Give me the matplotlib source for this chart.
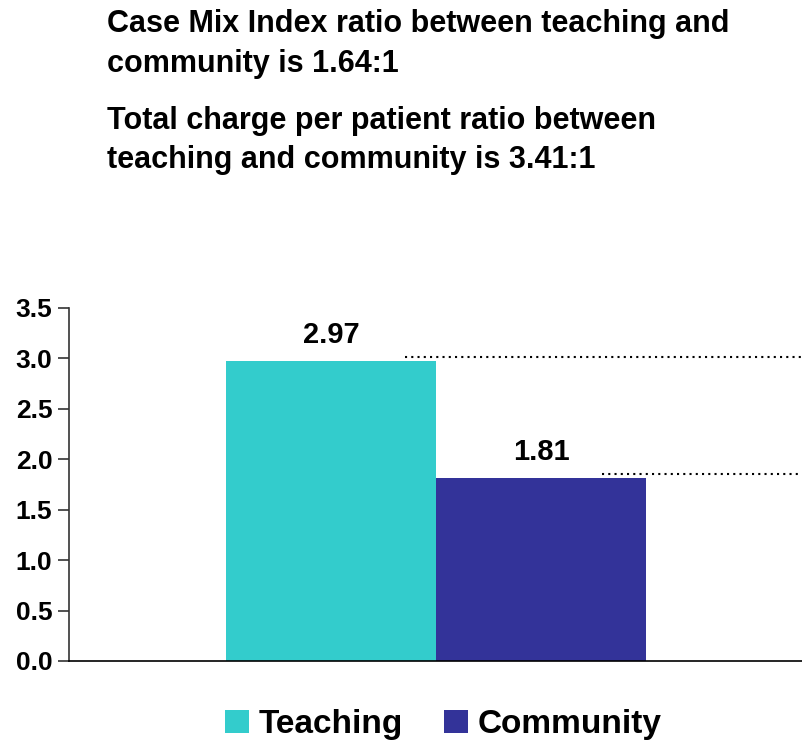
import matplotlib.pyplot as plt
from matplotlib.patches import Patch

plt.rcParams['font.family'] = ['Liberation Sans', 'DejaVu Sans']
plt.rcParams['font.weight'] = 'bold'

# data
groups = ['Teaching', 'Community']
values = [2.97, 1.81]
colors = ['#33CCCC', '#333399']
headline_lines = ['Case Mix Index ratio between teaching and',
                  'community is 1.64:1',
                  'Total charge per patient ratio between',
                  'teaching and community is 3.41:1']
yticks = [0.0, 0.5, 1.0, 1.5, 2.0, 2.5, 3.0, 3.5]

fig = plt.figure(figsize=(8.02, 7.43), dpi=100)
ax = fig.add_axes([0.086, 0.1104, 0.914, 0.4751])

xpos = [0.5, 1.5]
ax.bar(xpos, values, width=1.0, color=colors)
for x, v in zip(xpos, values):
    ax.text(x, v + 0.18, f'{v:.2f}', ha='center', va='baseline', fontsize=21, fontweight='bold')

# dotted guide lines just above each bar
starts = [0.85, 1.79]
for s, v in zip(starts, values):
    ax.plot([s, 2.76], [v + 0.045, v + 0.045], color='black', linestyle=(0, (1, 2)), linewidth=1.5,
            clip_on=False)

ax.set_xlim(-0.748, 2.743)
ax.set_ylim(0, 3.5)
ax.set_yticks(yticks)
ax.set_yticklabels([f'{t:.1f}' for t in yticks], fontsize=19, fontweight='bold')
ax.set_xticks([])
ax.tick_params(axis='y', length=8, width=1.2, color='#333333', pad=4)
for side in ['top', 'right']:
    ax.spines[side].set_visible(False)
ax.spines['left'].set_color('#333333')
ax.spines['bottom'].set_color('black')
ax.spines['left'].set_linewidth(1.2)
ax.spines['bottom'].set_linewidth(1.2)

# headline text, one line at a time (baselines)
baselines = [0.9569, 0.9031, 0.8264, 0.7739]
for line, yb in zip(headline_lines, baselines):
    fig.text(0.133, yb, line, fontsize=22, fontweight='bold', va='baseline')

handles = [Patch(facecolor=c, label=g) for c, g in zip(colors, groups)]
fig.legend(handles=handles, loc='center', bbox_to_anchor=(0.553, 0.025), ncol=2, frameon=False,
           prop={'size': 24, 'weight': 'bold'}, handlelength=0.7, handleheight=0.7,
           handletextpad=0.3, columnspacing=1.25)

fig.savefig('out.png', dpi=100)
